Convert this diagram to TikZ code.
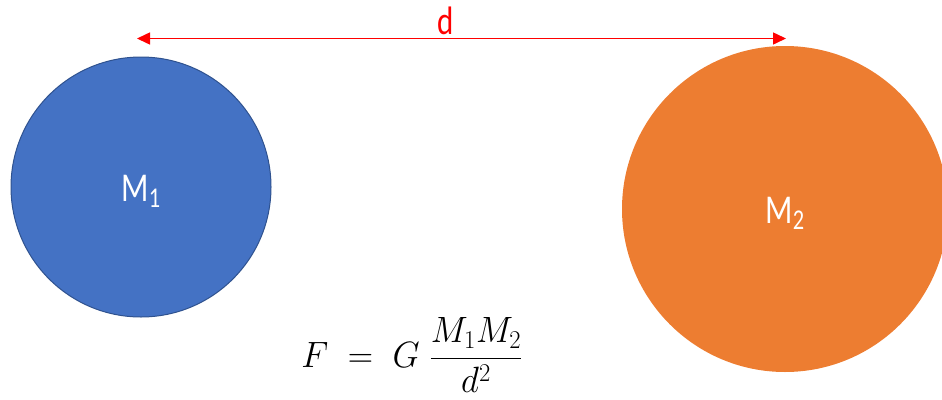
\RequirePackage{fix-cm}
\documentclass[tikz,border=0pt]{standalone}
\usepackage{fontspec}
\setmainfont{Carlito}
\usetikzlibrary{arrows.meta}
\definecolor{blueM}{HTML}{4472C4}
\definecolor{blueB}{HTML}{2F528F}
\definecolor{orangeM}{HTML}{ED7D31}
\definecolor{redA}{HTML}{FF0000}
\tikzset{
  mass/.style={circle, inner sep=0pt},
  lbl/.style={text=white, inner sep=0pt, font=\fontsize{32}{36}\selectfont, yscale=1.28, transform shape},
  dist/.style={draw=redA, line width=1.5pt, {Triangle[length=13pt,width=12pt]}-{Triangle[length=13pt,width=12pt]}},
}
\begin{document}
\begin{tikzpicture}[x=1pt,y=-1pt]
\useasboundingbox (0,0) rectangle (942,399);
\begin{scope}
\clip (0,0) rectangle (942,399);
\node[mass, minimum size=260pt, fill=blueM, draw=blueB, line width=1pt] (m1) at (141,187) {};
\node[mass, minimum size=326pt, fill=orangeM] (m2) at (785,209) {};
\end{scope}
\node[lbl] (l1) at (141,191) {M\textsubscript{1}};
\node[lbl] (l2) at (785,213) {M\textsubscript{2}};
\coordinate (a) at (137,38.5);
\coordinate (b) at (786,38.5);
\draw[dist] (a) -- (b);
\node[lbl, text=redA, font=\fontsize{31}{36}\selectfont] (d) at (446,21) {d};
\node[font=\fontsize{30}{34}\selectfont, inner sep=0pt, xscale=1.17, yscale=1.22, transform shape] (f) at (412,355) {$\displaystyle F\;=\;G\;\frac{M_1M_2}{d^2}$};
\end{tikzpicture}
\end{document}
